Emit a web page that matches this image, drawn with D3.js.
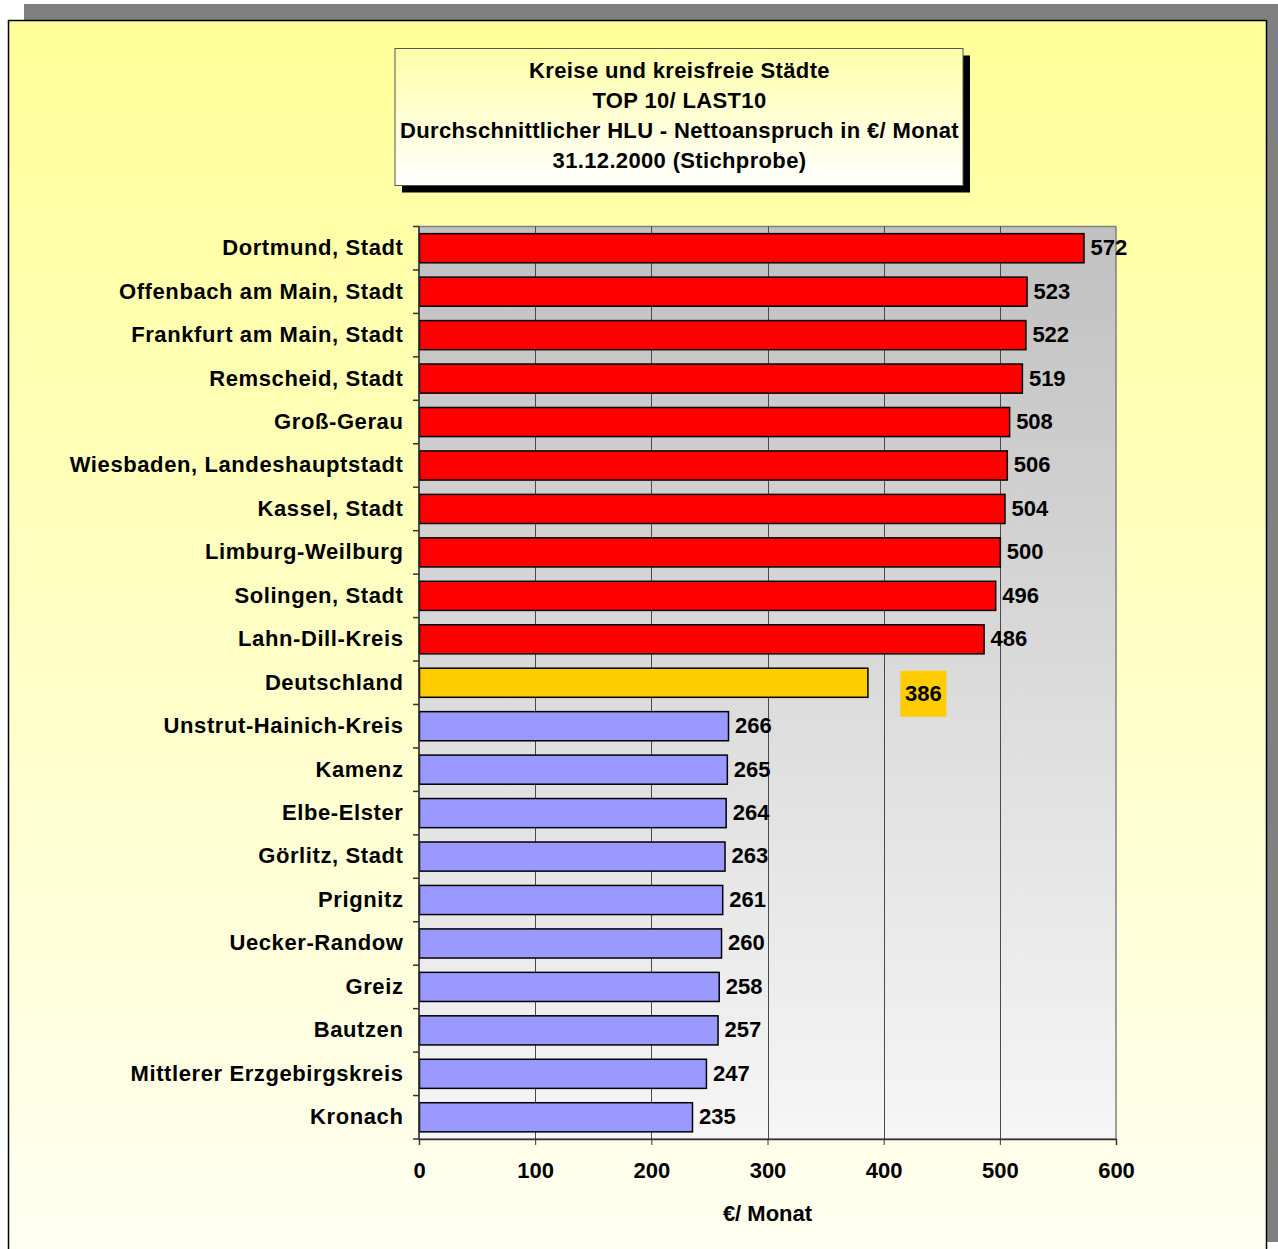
<!DOCTYPE html>
<html>
<head>
<meta charset="utf-8">
<script src="https://cdn.jsdelivr.net/npm/d3@7"></script>
<style>
  html, body { margin: 0; padding: 0; background: #ffffff; }
  svg { display: block; }
  text { font-family: "Liberation Sans", Arial, sans-serif; font-weight: bold; fill: #000; font-size: 22px; }
</style>
</head>
<body>
<svg id="chart" width="1278" height="1249"></svg>
<script>
// Regions, top ten and last ten, with the national average in between
const regions = [
  "Dortmund, Stadt", "Offenbach am Main, Stadt", "Frankfurt am Main, Stadt",
  "Remscheid, Stadt", "Groß-Gerau", "Wiesbaden, Landeshauptstadt",
  "Kassel, Stadt", "Limburg-Weilburg", "Solingen, Stadt", "Lahn-Dill-Kreis",
  "Deutschland",
  "Unstrut-Hainich-Kreis", "Kamenz", "Elbe-Elster", "Görlitz, Stadt",
  "Prignitz", "Uecker-Randow", "Greiz", "Bautzen",
  "Mittlerer Erzgebirgskreis", "Kronach"
];
// Average net entitlement (€ per month)
const amounts = [572, 523, 522, 519, 508, 506, 504, 500, 496, 486,
                 386,
                 266, 265, 264, 263, 261, 260, 258, 257, 247, 235];
// Group of each row: top ten, national average, last ten
const groups = ["top","top","top","top","top","top","top","top","top","top",
                "avg",
                "last","last","last","last","last","last","last","last","last","last"];
const xTicks = [0, 100, 200, 300, 400, 500, 600];
const titleLines = [
  "Kreise und kreisfreie Städte",
  "TOP 10/ LAST10",
  "Durchschnittlicher HLU - Nettoanspruch in €/ Monat",
  "31.12.2000 (Stichprobe)"
];
const axisTitle = "€/ Monat";

const rows = regions.map((r, i) => ({ region: r, value: amounts[i], group: groups[i] }));
const fillOf = { top: "#ff0000", avg: "#ffcc00", last: "#9999ff" };

const svg = d3.select("#chart");
const defs = svg.append("defs");

const bgGrad = defs.append("linearGradient").attr("id", "bgGrad")
  .attr("x1", 0).attr("y1", 0).attr("x2", 0).attr("y2", 1);
bgGrad.append("stop").attr("offset", "0%").attr("stop-color", "#ffff99");
bgGrad.append("stop").attr("offset", "100%").attr("stop-color", "#fffff2");

const plotGrad = defs.append("linearGradient").attr("id", "plotGrad")
  .attr("x1", 0).attr("y1", 0).attr("x2", 0).attr("y2", 1);
plotGrad.append("stop").attr("offset", "0%").attr("stop-color", "#c0c0c0");
plotGrad.append("stop").attr("offset", "100%").attr("stop-color", "#f6f6f6");

const titleGrad = defs.append("linearGradient").attr("id", "titleGrad")
  .attr("x1", 0).attr("y1", 0).attr("x2", 0).attr("y2", 1);
titleGrad.append("stop").attr("offset", "0%").attr("stop-color", "#ffffa8");
titleGrad.append("stop").attr("offset", "100%").attr("stop-color", "#ffffff");

// Outer panel with its drop shadow
svg.append("rect").attr("x", 24).attr("y", 4).attr("width", 1260).attr("height", 1238).attr("fill", "#808080");
svg.append("rect").attr("x", 8.5).attr("y", 20.5).attr("width", 1258).attr("height", 1240)
  .attr("fill", "url(#bgGrad)").attr("stroke", "#000").attr("stroke-width", 1.5);

// Plot area
const plot = { left: 419, top: 226.5, right: 1116, bottom: 1139 };
const x = d3.scaleLinear().domain([0, 600]).range([plot.left, plot.right]);
const y = d3.scaleBand().domain(regions).range([plot.top, plot.bottom]).paddingInner(0.33).paddingOuter(0.165);

svg.append("rect")
  .attr("x", plot.left).attr("y", plot.top)
  .attr("width", plot.right - plot.left).attr("height", plot.bottom - plot.top)
  .attr("fill", "url(#plotGrad)").attr("stroke", "#808080").attr("stroke-width", 1.5);

// Vertical gridlines
svg.append("g").selectAll("line").data(xTicks.slice(1, -1)).join("line")
  .attr("x1", d => Math.round(x(d)) + 0.5).attr("x2", d => Math.round(x(d)) + 0.5)
  .attr("y1", plot.top).attr("y2", plot.bottom)
  .attr("stroke", "#4a4a4a").attr("stroke-width", 1);

// Bars
svg.append("g").selectAll("rect").data(rows).join("rect")
  .attr("x", x(0) + 0.5)
  .attr("y", d => y(d.region))
  .attr("width", d => x(d.value) - x(0))
  .attr("height", y.bandwidth())
  .attr("fill", d => fillOf[d.group])
  .attr("stroke", "#000").attr("stroke-width", 1.5);

// Bottom axis
const xAxis = svg.append("g").attr("transform", `translate(0,${plot.bottom})`)
  .call(d3.axisBottom(x).tickValues(xTicks).tickSize(6).tickPadding(17).tickFormat(d3.format("d")));
xAxis.select(".domain").attr("stroke", "#333").attr("stroke-width", 1.5);
xAxis.selectAll(".tick line").attr("stroke", "#333");
xAxis.selectAll("text").style("font-size", "22px").style("font-family", null).attr("fill", "#000");

// Left axis with ticks at band boundaries
const boundaries = d3.range(regions.length + 1).map(i => plot.top + i * (plot.bottom - plot.top) / regions.length);
svg.append("g").selectAll("line").data(boundaries).join("line")
  .attr("x1", plot.left - 6).attr("x2", plot.left)
  .attr("y1", d => d).attr("y2", d => d)
  .attr("stroke", "#333").attr("stroke-width", 1.5);
svg.append("line")
  .attr("x1", plot.left).attr("x2", plot.left)
  .attr("y1", plot.top).attr("y2", plot.bottom)
  .attr("stroke", "#333").attr("stroke-width", 1.5);

// Category labels
svg.append("g").selectAll("text").data(rows).join("text")
  .attr("x", 403.5)
  .attr("y", d => y(d.region) + y.bandwidth() / 2 - 1)
  .attr("dy", "0.36em")
  .attr("text-anchor", "end")
  .style("letter-spacing", "0.6px")
  .text(d => d.region);

// Value labels
const labels = svg.append("g");
rows.forEach(d => {
  const cy = y(d.region) + y.bandwidth() / 2;
  if (d.group === "avg") {
    const lx = x(d.value) + 33, ly = cy + 11;
    labels.append("rect").attr("x", lx).attr("y", ly - 23).attr("width", 46).attr("height", 46).attr("fill", "#ffcc00");
    labels.append("text").attr("x", lx + 23).attr("y", ly - 1).attr("dy", "0.36em")
      .attr("text-anchor", "middle").text(d.value);
  } else {
    labels.append("text").attr("x", x(d.value) + 7).attr("y", cy - 1).attr("dy", "0.36em")
      .text(d.value);
  }
});

// Axis title
svg.append("text").attr("x", (plot.left + plot.right) / 2).attr("y", 1213).attr("dy", "0.36em")
  .attr("text-anchor", "middle").text(axisTitle);

// Title box with shadow
const tb = { x: 395, y: 48.5, w: 568, h: 137 };
svg.append("rect").attr("x", tb.x + 7).attr("y", tb.y + 7).attr("width", tb.w).attr("height", tb.h).attr("fill", "#000");
svg.append("rect").attr("x", tb.x).attr("y", tb.y).attr("width", tb.w).attr("height", tb.h)
  .attr("fill", "url(#titleGrad)").attr("stroke", "#555").attr("stroke-width", 1);
svg.append("g").selectAll("text").data(titleLines).join("text")
  .attr("x", tb.x + tb.w / 2 + 0.5)
  .attr("y", (d, i) => 70 + i * 30)
  .attr("dy", "0.36em")
  .attr("text-anchor", "middle")
  .style("letter-spacing", "0.35px")
  .text(d => d);
</script>
</body>
</html>
